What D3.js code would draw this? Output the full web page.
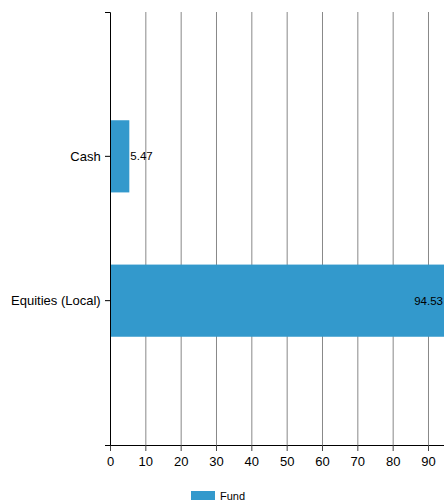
<!DOCTYPE html>
<html>
<head>
<meta charset="utf-8">
<script src="https://cdn.jsdelivr.net/npm/d3@7"></script>
<style>
  body { margin: 0; background: #fff; }
  text { font-family: "Liberation Sans", Arial, sans-serif; }
</style>
</head>
<body>
<svg id="plot" width="444" height="503"></svg>
<script>
const width = 444;
const height = 503;

const categories = ["Cash", "Equities (Local)"];
const values = [5.47, 94.53];
const xTicks = [0, 10, 20, 30, 40, 50, 60, 70, 80, 90];
const seriesName = "Fund";
const barColor = "#3399cc";

const margin = {top: 12, right: 0, bottom: 58, left: 110};

const svg = d3.select("#plot");

const x = d3.scaleLinear()
  .domain([0, d3.max(values)])
  .range([margin.left, width - margin.right]);

const y = d3.scaleBand()
  .domain(categories)
  .range([margin.top, height - margin.bottom])
  .paddingInner(0.5)
  .paddingOuter(0.75);

// grid
svg.append("g")
  .selectAll("line")
  .data(xTicks.filter(d => d > 0))
  .join("line")
  .attr("x1", d => x(d) + 0.5)
  .attr("x2", d => x(d) + 0.5)
  .attr("y1", margin.top)
  .attr("y2", height - margin.bottom)
  .attr("stroke", "#888")
  .attr("stroke-width", 1);

const data = categories.map((c, i) => ({cat: c, value: values[i]}));

svg.append("g")
  .selectAll("rect")
  .data(data)
  .join("rect")
  .attr("x", x(0))
  .attr("y", d => y(d.cat))
  .attr("width", d => x(d.value) - x(0))
  .attr("height", y.bandwidth())
  .attr("fill", barColor);

svg.append("g")
  .selectAll("text")
  .data(data)
  .join("text")
  .attr("x", d => x(d.value) + 24 > width ? x(d.value) - 1 : x(d.value) + 1)
  .attr("text-anchor", d => x(d.value) + 24 > width ? "end" : "start")
  .attr("y", d => y(d.cat) + y.bandwidth() / 2)
  .attr("dy", "0.35em")
  .attr("font-size", 11.5)
  .attr("fill", "#000")
  .text(d => d.value);

// x axis
const xAxis = svg.append("g")
  .attr("transform", `translate(0,${height - margin.bottom})`)
  .call(d3.axisBottom(x).tickValues(xTicks).tickSizeInner(6).tickSizeOuter(0));
xAxis.select(".domain").attr("d", `M${margin.left - 5},0.5H${width}`).attr("stroke", "#000");
xAxis.selectAll(".tick line").attr("stroke", "#444");
xAxis.selectAll("text").attr("font-size", 13).attr("fill", "#000").attr("dy", "0.95em");

// y axis
const yAxis = svg.append("g")
  .attr("transform", `translate(${margin.left},0)`)
  .call(d3.axisLeft(y).tickSizeInner(5).tickSizeOuter(5));
yAxis.select(".domain").attr("stroke", "#000");
yAxis.selectAll("text").attr("font-size", 13).attr("fill", "#000").attr("dx", "-0.1em");

// legend
const legend = svg.append("g").attr("transform", "translate(191,491)");
legend.append("rect").attr("width", 24).attr("height", 9).attr("fill", barColor);
legend.append("text").attr("x", 29).attr("y", 9).attr("font-size", 11).attr("fill", "#000").text(seriesName);
</script>
</body>
</html>
